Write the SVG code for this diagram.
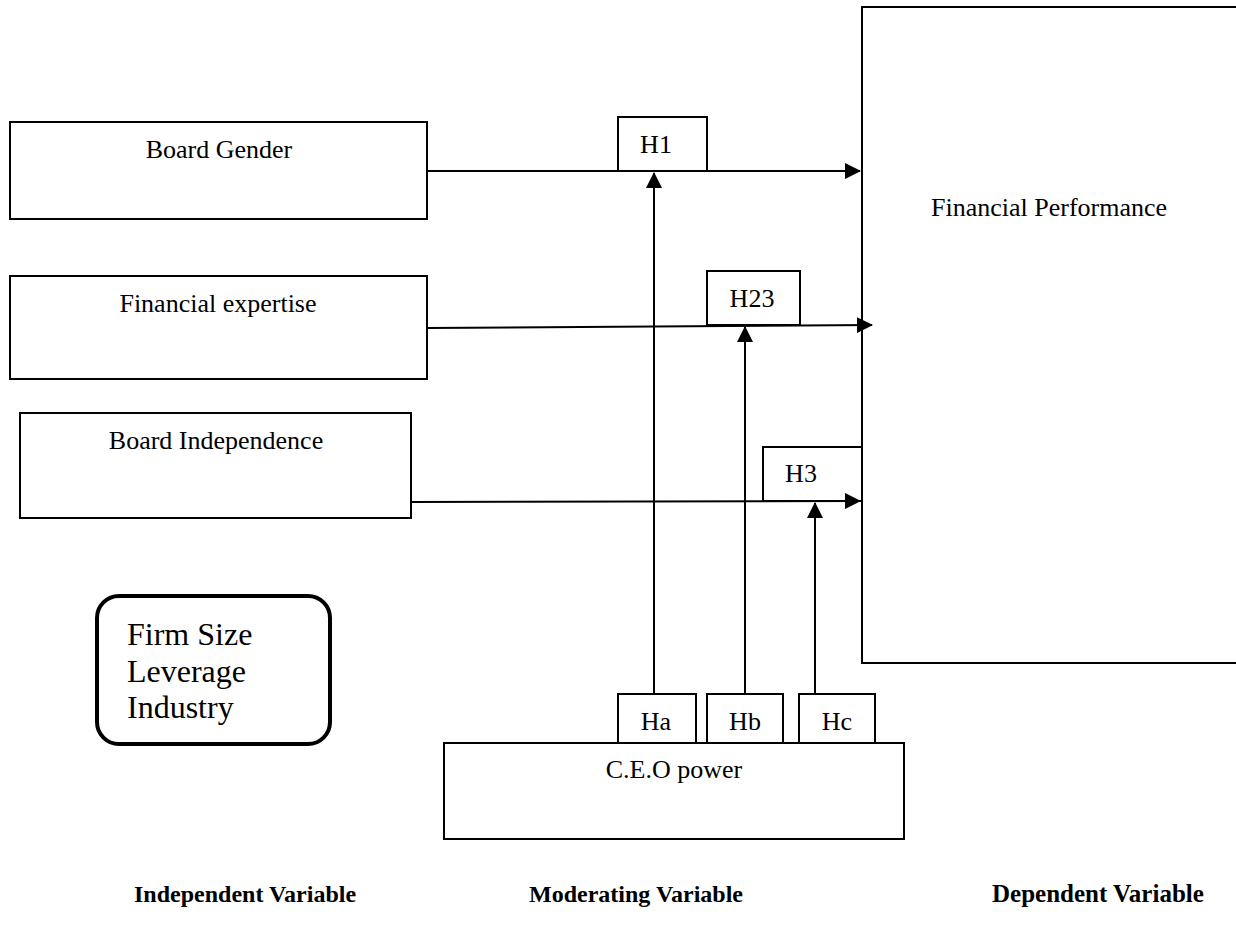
<svg xmlns="http://www.w3.org/2000/svg" width="1236" height="941" viewBox="0 0 1236 941">
<defs>
<style>
.box{fill:#fff;stroke:#000;stroke-width:2}
.t{font-family:"Liberation Serif","Times New Roman",serif;font-size:26px;fill:#000}
.c{text-anchor:middle}
.b{font-family:"Liberation Serif","Times New Roman",serif;font-size:24px;font-weight:bold;fill:#000}
.ln{stroke:#000;stroke-width:2;fill:none}
</style>
<marker id="ah" markerWidth="8" markerHeight="8" refX="7.5" refY="4" orient="auto" markerUnits="strokeWidth">
<path d="M0,0 L8,4 L0,8 Z" fill="#000"/>
</marker>
</defs>
<rect width="1236" height="941" fill="#fff"/>
<g id="financial-performance">
<rect class="box" x="862" y="7" width="380" height="656"/>
<text class="t" x="931" y="216">Financial Performance</text>
</g>
<g id="board-gender">
<rect class="box" x="10" y="122" width="417" height="97"/>
<text class="t c" x="219" y="158">Board Gender</text>
</g>
<g id="financial-expertise">
<rect class="box" x="10" y="276" width="417" height="103"/>
<text class="t c" x="218" y="312">Financial expertise</text>
</g>
<g id="board-independence">
<rect class="box" x="20" y="413" width="391" height="105"/>
<text class="t c" x="216" y="449">Board Independence</text>
</g>
<g id="controls">
<rect x="97" y="596" width="233" height="148" rx="22" ry="22" fill="#fff" stroke="#000" stroke-width="4"/>
<text class="t" x="127" y="645" style="font-size:32px">Firm Size</text>
<text class="t" x="127" y="682" style="font-size:32px">Leverage</text>
<text class="t" x="127" y="718" style="font-size:32px">Industry</text>
</g>
<g id="ceo-power">
<rect class="box" x="444" y="743" width="460" height="96"/>
<text class="t c" x="674" y="778">C.E.O power</text>
</g>
<g id="h1">
<rect class="box" x="618" y="117" width="89" height="54"/>
<text class="t c" x="656" y="153">H1</text>
</g>
<g id="h23">
<rect class="box" x="707" y="271" width="93" height="54"/>
<text class="t c" x="752" y="307">H23</text>
</g>
<g id="h3">
<rect class="box" x="763" y="447" width="99" height="54"/>
<text class="t c" x="801" y="482">H3</text>
</g>
<g id="ha">
<rect class="box" x="618" y="694" width="78" height="49"/>
<text class="t c" x="656" y="730">Ha</text>
</g>
<g id="hb">
<rect class="box" x="707" y="694" width="76" height="49"/>
<text class="t c" x="745" y="730">Hb</text>
</g>
<g id="hc">
<rect class="box" x="799" y="694" width="76" height="49"/>
<text class="t c" x="837" y="730">Hc</text>
</g>
<g id="connectors">
<line class="ln" x1="427" y1="171" x2="860" y2="171" marker-end="url(#ah)"/>
<line class="ln" x1="427" y1="328" x2="872" y2="325" marker-end="url(#ah)"/>
<line class="ln" x1="411" y1="502" x2="860" y2="501" marker-end="url(#ah)"/>
<line class="ln" x1="654" y1="694" x2="654" y2="173" marker-end="url(#ah)"/>
<line class="ln" x1="745" y1="694" x2="745" y2="327" marker-end="url(#ah)"/>
<line class="ln" x1="815" y1="694" x2="815" y2="503" marker-end="url(#ah)"/>
</g>
<g id="labels">
<text class="b" x="134" y="902">Independent Variable</text>
<text class="b" x="529" y="902">Moderating Variable</text>
<text class="b" x="992" y="902" style="font-size:25px">Dependent Variable</text>
</g>
</svg>
